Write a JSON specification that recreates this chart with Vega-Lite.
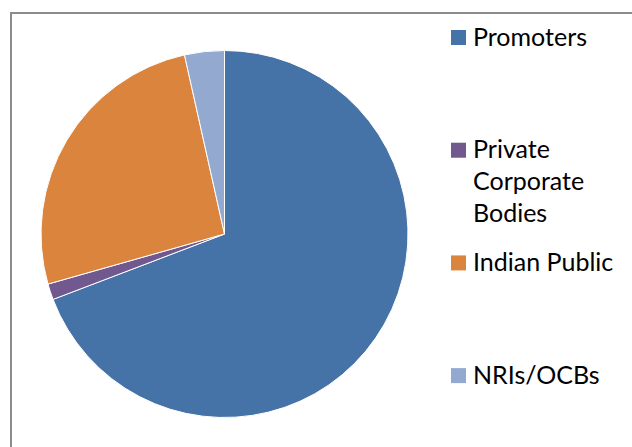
{
  "$schema": "https://vega.github.io/schema/vega-lite/v6.json",
  "padding": {"left": 10, "top": 12, "right": 0, "bottom": 0},
  "background": "white",
  "bounds": "flush",
  "config": {"concat": {"spacing": 0}, "font": "Lato"},
  "datasets": {
    "shares": [
      {"holder": "Promoters", "label": "Promoters", "share": 69.2, "rank": 1},
      {"holder": "Private Corporate Bodies", "label": "Private\nCorporate\nBodies", "share": 1.4, "rank": 2},
      {"holder": "Indian Public", "label": "Indian Public", "share": 25.9, "rank": 3},
      {"holder": "NRIs/OCBs", "label": "NRIs/OCBs", "share": 3.5, "rank": 4}
    ]
  },
  "hconcat": [
    {
      "width": 427,
      "height": 442,
      "view": {"stroke": "#8c8c8c", "strokeWidth": 2, "strokeDash": [428, 868, 442]},
      "data": {"name": "shares"},
      "mark": {"type": "arc", "outerRadius": 183.5, "stroke": "white", "strokeWidth": 1},
      "encoding": {
        "theta": {"field": "share", "type": "quantitative", "stack": true},
        "order": {"field": "rank", "type": "quantitative"},
        "color": {
          "field": "holder",
          "type": "nominal",
          "scale": {
            "domain": ["Promoters", "Private Corporate Bodies", "Indian Public", "NRIs/OCBs"],
            "range": ["#4572A7", "#71588F", "#DB843D", "#93A9CF"]
          },
          "legend": null
        }
      }
    },
    {
      "width": 195,
      "height": 442,
      "view": {"stroke": "#8c8c8c", "strokeWidth": 2, "strokeDash": [195, 3000]},
      "data": {"name": "shares"},
      "encoding": {
        "y": {
          "field": "holder",
          "type": "nominal",
          "scale": {
            "type": "point",
            "domain": ["Promoters", "Private Corporate Bodies", "Indian Public", "NRIs/OCBs"],
            "padding": 0.461,
            "align": 0.236
          },
          "axis": null
        }
      },
      "layer": [
        {
          "mark": {"type": "point", "shape": "square", "size": 225, "filled": true, "opacity": 1, "strokeWidth": 0, "xOffset": -77},
          "encoding": {
            "color": {"field": "holder", "type": "nominal", "legend": null}
          }
        },
        {
          "mark": {"type": "text", "align": "left", "baseline": "alphabetic", "dx": -62.5, "dy": 8, "lineBreak": "\n", "lineHeight": 32, "fontSize": 25, "font": "Lato", "color": "#000000"},
          "encoding": {
            "text": {"field": "label"}
          }
        }
      ]
    }
  ]
}
